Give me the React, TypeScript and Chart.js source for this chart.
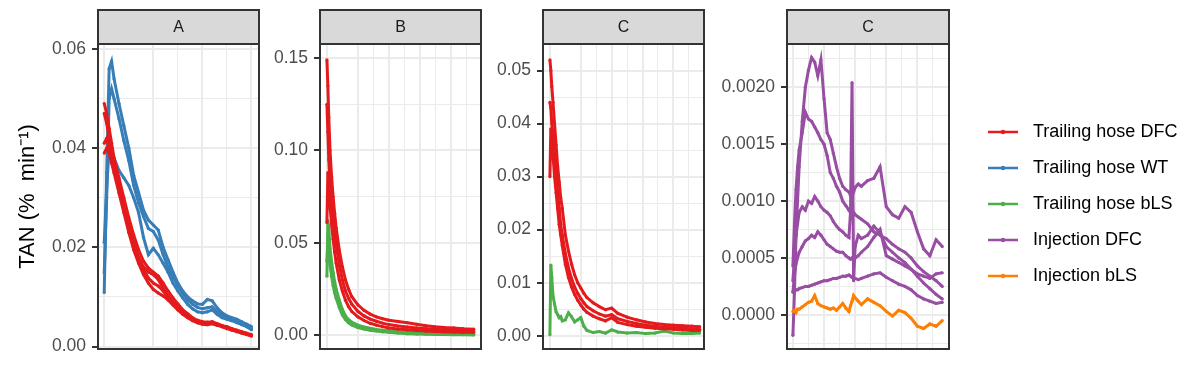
import React, { useEffect, useRef } from "react";
import { Chart, registerables } from "chart.js";

Chart.register(...registerables);

const FONT = "'Liberation Sans', Arial, Helvetica, sans-serif";

const seriesNames = ["Trailing hose DFC", "Trailing hose WT", "Trailing hose bLS", "Injection DFC", "Injection bLS"];
const seriesColors = ["#E41A1C", "#377EB8", "#4DAF4A", "#984EA3", "#FF7F00"];
const yTitle = "TAN (%  min⁻¹)";

// ---------- Panel A ----------
const timeA = [0, 0.05, 0.1, 0.15, 0.2, 0.3, 0.4, 0.5, 0.6, 0.7, 0.8, 0.9, 1.0, 1.1, 1.2, 1.3, 1.4, 1.5, 1.6, 1.7, 1.8, 1.9, 2.0, 2.1, 2.2, 2.3, 2.4, 2.5, 2.6, 2.7, 2.8, 2.9, 3.0];
const aDfc1 = [0.049, 0.047, 0.044, 0.041, 0.038, 0.034, 0.030, 0.026, 0.0225, 0.0195, 0.0172, 0.0158, 0.0150, 0.0142, 0.0128, 0.0112, 0.0098, 0.0086, 0.0074, 0.0066, 0.0058, 0.0053, 0.0050, 0.0049, 0.0050, 0.0046, 0.0042, 0.0040, 0.0036, 0.0033, 0.0030, 0.0027, 0.0024];
const aDfc2 = [0.047, 0.045, 0.042, 0.040, 0.037, 0.033, 0.029, 0.025, 0.021, 0.018, 0.0155, 0.0138, 0.0128, 0.0122, 0.0112, 0.0100, 0.0088, 0.0078, 0.0068, 0.0060, 0.0054, 0.0050, 0.0047, 0.0046, 0.0047, 0.0044, 0.0040, 0.0037, 0.0034, 0.0031, 0.0028, 0.0025, 0.0022];
const aDfc3 = [0.041, 0.042, 0.040, 0.038, 0.036, 0.032, 0.028, 0.024, 0.0205, 0.0178, 0.0160, 0.0150, 0.0145, 0.0135, 0.0118, 0.0102, 0.0090, 0.0080, 0.0070, 0.0062, 0.0056, 0.0051, 0.0048, 0.0047, 0.0048, 0.0045, 0.0042, 0.0038, 0.0035, 0.0032, 0.0029, 0.0026, 0.0023];
const aDfc4 = [0.039, 0.040, 0.039, 0.037, 0.035, 0.031, 0.027, 0.023, 0.0195, 0.0168, 0.0145, 0.0128, 0.0115, 0.0108, 0.0102, 0.0094, 0.0084, 0.0074, 0.0065, 0.0058, 0.0052, 0.0048, 0.0045, 0.0044, 0.0046, 0.0043, 0.0040, 0.0036, 0.0033, 0.0030, 0.0027, 0.0024, 0.0021];
const aWt1 = [0.0109, 0.035, 0.056, 0.0575, 0.054, 0.049, 0.0445, 0.040, 0.0345, 0.031, 0.0275, 0.0255, 0.0245, 0.0235, 0.020, 0.0175, 0.015, 0.0128, 0.0112, 0.0100, 0.0092, 0.0086, 0.0085, 0.0095, 0.0092, 0.0078, 0.0068, 0.0062, 0.0058, 0.0055, 0.0050, 0.0045, 0.0040];
const aWt2 = [0.0149, 0.030, 0.050, 0.052, 0.050, 0.046, 0.0415, 0.0375, 0.0325, 0.029, 0.0262, 0.0238, 0.0232, 0.0215, 0.0185, 0.0160, 0.0140, 0.0122, 0.0108, 0.0094, 0.0085, 0.0079, 0.0076, 0.0078, 0.0080, 0.0070, 0.0063, 0.0058, 0.0055, 0.0050, 0.0046, 0.0042, 0.0036];
const aWt3 = [0.021, 0.032, 0.040, 0.0395, 0.038, 0.0355, 0.034, 0.0325, 0.030, 0.027, 0.022, 0.0185, 0.0198, 0.0185, 0.0168, 0.0150, 0.0128, 0.0112, 0.0098, 0.0085, 0.0076, 0.0070, 0.0068, 0.0070, 0.0074, 0.0065, 0.0058, 0.0055, 0.0052, 0.0048, 0.0044, 0.0040, 0.0034];
const aYTicks = [0, 0.02, 0.04, 0.06];
const aYLabels = ["0.00", "0.02", "0.04", "0.06"];
const aYMinor = [0.01, 0.03, 0.05];
const aXMajor = [0, 1, 2, 3];
const aXMinor = [1.5, 2.5];

// ---------- Panel B ----------
const timeB = [0, 0.03, 0.06, 0.1, 0.15, 0.2, 0.25, 0.3, 0.4, 0.5, 0.6, 0.7, 0.8, 1.0, 1.2, 1.4, 1.6, 1.8, 2.0, 2.3, 2.6, 2.9, 3.2, 3.5, 3.8, 4.1, 4.4, 4.75];
const bDfc1 = [0.149, 0.135, 0.118, 0.100, 0.086, 0.075, 0.066, 0.058, 0.046, 0.037, 0.030, 0.025, 0.021, 0.0165, 0.0135, 0.0115, 0.0100, 0.0090, 0.0082, 0.0075, 0.0068, 0.0060, 0.0052, 0.0046, 0.0042, 0.0040, 0.0036, 0.0033];
const bDfc2 = [0.125, 0.110, 0.095, 0.082, 0.070, 0.062, 0.055, 0.049, 0.038, 0.030, 0.024, 0.020, 0.0170, 0.0130, 0.0105, 0.0088, 0.0076, 0.0066, 0.0058, 0.0050, 0.0045, 0.0040, 0.0036, 0.0033, 0.0030, 0.0028, 0.0026, 0.0024];
const bDfc3 = [0.061, 0.088, 0.080, 0.070, 0.060, 0.052, 0.045, 0.039, 0.030, 0.024, 0.019, 0.0155, 0.0130, 0.0100, 0.0080, 0.0065, 0.0055, 0.0047, 0.0040, 0.0034, 0.0030, 0.0026, 0.0023, 0.0021, 0.0019, 0.0018, 0.0017, 0.0016];
const bBls1 = [0.032, 0.062, 0.058, 0.047, 0.040, 0.034, 0.029, 0.025, 0.019, 0.014, 0.0105, 0.0085, 0.0072, 0.0055, 0.0045, 0.0038, 0.0032, 0.0028, 0.0025, 0.0020, 0.0016, 0.0013, 0.0011, 0.0010, 0.0009, 0.0008, 0.0007, 0.0006];
const bBls2 = [0.040, 0.050, 0.045, 0.038, 0.032, 0.027, 0.023, 0.020, 0.015, 0.011, 0.0085, 0.0068, 0.0056, 0.0042, 0.0034, 0.0028, 0.0023, 0.0019, 0.0016, 0.0012, 0.0009, 0.0007, 0.0006, 0.0005, 0.0004, 0.0003, 0.0003, 0.0002];
const bYTicks = [0, 0.05, 0.1, 0.15];
const bYLabels = ["0.00", "0.05", "0.10", "0.15"];
const bYMinor = [0.025, 0.075, 0.125];
const bXMajor = [0, 1, 2, 3, 4];
const bXMinor = [1.5, 2.5, 3.5, 4.5];

// ---------- Panel C (trailing hose) ----------
const timeC1 = [0, 0.03, 0.06, 0.1, 0.15, 0.2, 0.25, 0.3, 0.35, 0.4, 0.5, 0.6, 0.7, 0.8, 0.9, 1.0, 1.1, 1.2, 1.4, 1.6, 1.8, 2.0, 2.2, 2.5, 2.8, 3.1, 3.4, 3.7, 4.0, 4.3, 4.6, 4.85];
const cDfc1 = [0.052, 0.050, 0.047, 0.044, 0.040, 0.036, 0.032, 0.029, 0.026, 0.024, 0.019, 0.0160, 0.0135, 0.0115, 0.0100, 0.0090, 0.0080, 0.0072, 0.0062, 0.0055, 0.0049, 0.0052, 0.0042, 0.0035, 0.0030, 0.0026, 0.0023, 0.0021, 0.0020, 0.0019, 0.0018, 0.0017];
const cDfc2 = [0.044, 0.043, 0.040, 0.038, 0.034, 0.031, 0.027, 0.024, 0.021, 0.019, 0.0155, 0.0128, 0.0108, 0.0092, 0.0080, 0.0070, 0.0062, 0.0055, 0.0047, 0.0041, 0.0037, 0.0040, 0.0032, 0.0027, 0.0023, 0.0020, 0.0018, 0.0016, 0.0015, 0.0014, 0.0013, 0.0012];
const cDfc3 = [0.030, 0.039, 0.037, 0.034, 0.030, 0.027, 0.024, 0.021, 0.019, 0.017, 0.0135, 0.0110, 0.0092, 0.0078, 0.0067, 0.0058, 0.0050, 0.0044, 0.0037, 0.0032, 0.0028, 0.0034, 0.0025, 0.0021, 0.0018, 0.0016, 0.0014, 0.0013, 0.0012, 0.0011, 0.0010, 0.0010];
const cBls1 = [0.0002, 0.0133, 0.0110, 0.0075, 0.0060, 0.0045, 0.0040, 0.0034, 0.0036, 0.0028, 0.0030, 0.0043, 0.0036, 0.0026, 0.0030, 0.0034, 0.0018, 0.0010, 0.0006, 0.0008, 0.0005, 0.0011, 0.0007, 0.0005, 0.0006, 0.0004, 0.0005, 0.0009, 0.0005, 0.0004, 0.0004, 0.0005];
const c1YTicks = [0, 0.01, 0.02, 0.03, 0.04, 0.05];
const c1YLabels = ["0.00", "0.01", "0.02", "0.03", "0.04", "0.05"];
const c1YMinor = [0.005, 0.015, 0.025, 0.035, 0.045];
const c1XMajor = [0, 1, 2, 3, 4];
const c1XMinor = [1.5, 2.5, 3.5, 4.5];

// ---------- Panel C (injection) ----------
const timeC2 = [0, 0.05, 0.1, 0.15, 0.2, 0.3, 0.4, 0.5, 0.6, 0.7, 0.8, 0.9, 1.0, 1.1, 1.2, 1.3, 1.4, 1.5, 1.6, 1.7, 1.8, 1.85, 1.9, 1.95, 2.0, 2.1, 2.2, 2.4, 2.6, 2.8, 3.0, 3.2, 3.4, 3.6, 3.8, 4.0, 4.2, 4.4, 4.6, 4.8];
const injDfc1 = [-0.00018, 0.0002, 0.0007, 0.0010, 0.0013, 0.0017, 0.0020, 0.00215, 0.00226, 0.00222, 0.0021, 0.00224, 0.0019, 0.0016, 0.00154, 0.00142, 0.0013, 0.0012, 0.00113, 0.0011, 0.00108, 0.00105, 0.0011, 0.00108, 0.00112, 0.00115, 0.00113, 0.00118, 0.0012, 0.0013, 0.00095, 0.00088, 0.00085, 0.00095, 0.0009, 0.00073, 0.00058, 0.00052, 0.00066, 0.0006];
const injDfc2 = [0.00043, 0.0008, 0.0011, 0.0013, 0.00145, 0.0016, 0.00178, 0.00172, 0.0017, 0.00165, 0.0016, 0.00154, 0.0015, 0.0014, 0.00125, 0.0012, 0.00113, 0.00108, 0.0010, 0.00096, 0.00092, 0.0009, 0.00088, 0.0009, 0.00088, 0.00086, 0.00084, 0.0008, 0.00073, 0.0007, 0.00067, 0.00062, 0.00058, 0.00055, 0.0005, 0.00043, 0.00038, 0.00034, 0.0003, 0.00025];
const injDfc3 = [0.0003, 0.0005, 0.0007, 0.0008, 0.0009, 0.00095, 0.00092, 0.0010, 0.00098, 0.00104, 0.0010, 0.00095, 0.00092, 0.0009, 0.00087, 0.00082, 0.00078, 0.00075, 0.00073, 0.0007, 0.00068, 0.0009, 0.00204, 0.0003, 0.0006, 0.0007, 0.00067, 0.0007, 0.00078, 0.00072, 0.0006, 0.00055, 0.0005, 0.00046, 0.0004, 0.00034, 0.00028, 0.00023, 0.00018, 0.00014];
const injDfc4 = [0.0002, 0.00035, 0.00045, 0.0005, 0.00055, 0.0006, 0.00065, 0.00067, 0.0007, 0.00068, 0.00073, 0.0007, 0.00066, 0.00062, 0.0006, 0.00058, 0.00056, 0.00055, 0.00055, 0.00052, 0.0005, 0.00049, 0.0005, 0.00048, 0.0005, 0.00052, 0.00055, 0.0006, 0.00068, 0.00075, 0.00052, 0.00049, 0.00046, 0.00043, 0.0004, 0.00036, 0.00034, 0.00032, 0.00036, 0.00037];
const injDfc5 = [0.0002, 0.00021, 0.00022, 0.00022, 0.00023, 0.00024, 0.00025, 0.00025, 0.00026, 0.00027, 0.00028, 0.00029, 0.0003, 0.0003, 0.00031, 0.00032, 0.00032, 0.00033, 0.00034, 0.00034, 0.00035, 0.00034, 0.00033, 0.00032, 0.00032, 0.00031, 0.00032, 0.00034, 0.00036, 0.00037, 0.00033, 0.0003, 0.00027, 0.00025, 0.00022, 0.00017, 0.00014, 0.00012, 0.0001, 0.00011];
const injBls = [0.00003, 0.00004, 0.00002, 0.00005, 0.00005, 0.00007, 0.00009, 0.00011, 0.00012, 0.00017, 0.0001, 0.00008, 0.00007, 0.00006, 0.00005, 0.00006, 0.00004, 0.00007, 0.0001, 0.00006, 0.00003, 0.00008, 0.00012, 0.00017, 0.00015, 0.00012, 0.00009, 0.00014, 0.00011, 0.00008, 0.00003, -0.00001, 0.00004, 0.00002, -0.00003, -0.0001, -0.00012, -0.00008, -0.0001, -0.00005];
const c2YTicks = [0, 0.0005, 0.001, 0.0015, 0.002];
const c2YLabels = ["0.0000", "0.0005", "0.0010", "0.0015", "0.0020"];
const c2YMinor = [-0.00025, 0.00025, 0.00075, 0.00125, 0.00175, 0.00225];
const c2XMajor = [0, 1, 2, 3, 4];
const c2XMinor = [0.5, 1.5, 2.5, 3.5, 4.5];

type Line = { s: number; ys: number[] };
type PanelSpec = {
  label: string; left: number; axisWidth: number; width: number;
  xs: number[]; lines: Line[];
  xMin: number; xMax: number; xMajor: number[]; xMinor: number[];
  yMin: number; yMax: number; yMajor: number[]; yMinor: number[]; yLabels: string[];
  title?: string;
};

const panels: PanelSpec[] = [
  {
    label: "A", left: 0, axisWidth: 98, width: 263, xs: timeA,
    lines: [{ s: 0, ys: aDfc1 }, { s: 0, ys: aDfc2 }, { s: 0, ys: aDfc3 }, { s: 0, ys: aDfc4 }, { s: 1, ys: aWt1 }, { s: 1, ys: aWt2 }, { s: 1, ys: aWt3 }],
    xMin: -0.127, xMax: 3.153, xMajor: aXMajor, xMinor: aXMinor,
    yMin: -0.0005, yMax: 0.061, yMajor: aYTicks, yMinor: aYMinor, yLabels: aYLabels, title: yTitle,
  },
  {
    label: "B", left: 265, axisWidth: 55, width: 220, xs: timeB,
    lines: [{ s: 0, ys: bDfc1 }, { s: 0, ys: bDfc2 }, { s: 0, ys: bDfc3 }, { s: 2, ys: bBls1 }, { s: 2, ys: bBls2 }],
    xMin: -0.224, xMax: 4.984, xMajor: bXMajor, xMinor: bXMinor,
    yMin: -0.0074, yMax: 0.1576, yMajor: bYTicks, yMinor: bYMinor, yLabels: bYLabels,
  },
  {
    label: "C", left: 488, axisWidth: 55, width: 220, xs: timeC1,
    lines: [{ s: 0, ys: cDfc1 }, { s: 0, ys: cDfc2 }, { s: 0, ys: cDfc3 }, { s: 2, ys: cBls1 }],
    xMin: -0.224, xMax: 4.99, xMajor: c1XMajor, xMinor: c1XMinor,
    yMin: -0.0025, yMax: 0.055, yMajor: c1YTicks, yMinor: c1YMinor, yLabels: c1YLabels,
  },
  {
    label: "C", left: 712, axisWidth: 75, width: 241, xs: timeC2,
    lines: [{ s: 4, ys: injBls }, { s: 3, ys: injDfc1 }, { s: 3, ys: injDfc2 }, { s: 3, ys: injDfc3 }, { s: 3, ys: injDfc4 }, { s: 3, ys: injDfc5 }],
    xMin: -0.19, xMax: 5.016, xMajor: c2XMajor, xMinor: c2XMinor,
    yMin: -0.0003, yMax: 0.00238, yMajor: c2YTicks, yMinor: c2YMinor, yLabels: c2YLabels,
  },
];

const has = (arr: number[], v: number) => arr.some((m) => Math.abs(m - v) < 1e-10);

function Panel({ spec }: { spec: PanelSpec }) {
  const ref = useRef<HTMLCanvasElement>(null);
  useEffect(() => {
    const frame = {
      id: "panelFrame",
      afterDraw(chart: any) {
        const { ctx, chartArea } = chart;
        const { left, right, top, bottom } = chartArea;
        ctx.save();
        ctx.fillStyle = "#D9D9D9";
        ctx.fillRect(left, 10, right - left, top - 10);
        ctx.strokeStyle = "#333333";
        ctx.lineWidth = 2;
        ctx.strokeRect(left, 10, right - left, top - 10);
        ctx.strokeRect(left, top, right - left, bottom - top);
        ctx.fillStyle = "#1A1A1A";
        ctx.font = `16px ${FONT}`;
        ctx.textAlign = "center";
        ctx.textBaseline = "middle";
        ctx.fillText(spec.label, (left + right) / 2, (10 + top) / 2 + 1);
        ctx.restore();
      },
    };
    const xTicks = [...spec.xMajor, ...spec.xMinor].sort((a, b) => a - b);
    const yTicks = [...spec.yMajor, ...spec.yMinor].sort((a, b) => a - b);
    const chart = new Chart(ref.current as HTMLCanvasElement, {
      type: "line",
      data: {
        datasets: spec.lines.map((l) => ({
          label: seriesNames[l.s],
          data: spec.xs.map((x, i) => ({ x, y: l.ys[i] })),
          borderColor: seriesColors[l.s],
          backgroundColor: seriesColors[l.s],
          pointBackgroundColor: seriesColors[l.s],
          borderWidth: 3,
          pointRadius: 1.6,
          pointBorderWidth: 0,
          tension: 0,
          fill: false,
        })),
      },
      options: {
        animation: false,
        responsive: false,
        devicePixelRatio: 1,
        layout: { padding: { top: 44, bottom: 20, left: 0, right: 2 } },
        plugins: { legend: { display: false }, tooltip: { enabled: false } },
        scales: {
          x: {
            type: "linear",
            min: spec.xMin,
            max: spec.xMax,
            afterBuildTicks: (s: any) => { s.ticks = xTicks.map((v) => ({ value: v })); },
            ticks: { display: false },
            grid: {
              color: "#EBEBEB",
              lineWidth: (c: any) => (c.tick && has(spec.xMajor, c.tick.value) ? 2 : 1),
              drawTicks: false,
            },
            border: { display: false },
          },
          y: {
            type: "linear",
            min: spec.yMin,
            max: spec.yMax,
            afterBuildTicks: (s: any) => { s.ticks = yTicks.map((v) => ({ value: v })); },
            afterFit: (s: any) => { s.width = spec.axisWidth; },
            ticks: {
              autoSkip: false,
              padding: 6,
              color: "#4D4D4D",
              font: { family: FONT, size: 17.5 },
              callback: (v: any) => {
                const i = spec.yMajor.findIndex((m) => Math.abs(m - Number(v)) < 1e-10);
                return i >= 0 ? spec.yLabels[i] : "";
              },
            },
            grid: {
              color: "#EBEBEB",
              lineWidth: (c: any) => (c.tick && has(spec.yMajor, c.tick.value) ? 2 : 1),
              tickLength: 6,
              tickWidth: 2,
              tickColor: (c: any) => (c.tick && has(spec.yMajor, c.tick.value) ? "#333333" : "rgba(0,0,0,0)"),
            },
            border: { display: false },
            title: spec.title
              ? { display: true, text: spec.title, color: "#000000", font: { family: FONT, size: 22, lineHeight: 1.2 }, padding: { top: 15, bottom: 0 } }
              : { display: false },
          },
        },
      } as any,
      plugins: [frame],
    });
    return () => chart.destroy();
  }, [spec]);
  return (
    <canvas
      ref={ref}
      width={spec.width}
      height={369}
      style={{ position: "absolute", left: spec.left, top: 0, width: spec.width, height: 369 }}
    />
  );
}

function Legend() {
  const ref = useRef<HTMLCanvasElement>(null);
  useEffect(() => {
    const keys = seriesColors.map((c) => {
      const k = document.createElement("canvas");
      k.width = 36;
      k.height = 8;
      const g = k.getContext("2d") as CanvasRenderingContext2D;
      g.strokeStyle = c;
      g.lineWidth = 2.5;
      g.beginPath();
      g.moveTo(0, 4);
      g.lineTo(30, 4);
      g.stroke();
      g.fillStyle = c;
      g.beginPath();
      g.arc(15, 4, 2.2, 0, Math.PI * 2);
      g.fill();
      return k;
    });
    const chart = new Chart(ref.current as HTMLCanvasElement, {
      type: "line",
      data: { datasets: seriesNames.map((n, i) => ({ label: n, data: [], borderColor: seriesColors[i] })) },
      options: {
        animation: false,
        responsive: false,
        devicePixelRatio: 1,
        layout: { padding: { top: 105, left: 0, right: 0, bottom: 0 } },
        scales: { x: { display: false }, y: { display: false } },
        plugins: {
          tooltip: { enabled: false },
          legend: {
            display: true,
            position: "left",
            align: "start",
            maxWidth: 231,
            labels: {
              usePointStyle: true,
              pointStyleWidth: 36,
              padding: 18,
              color: "#000000",
              font: { family: FONT, size: 18 },
              generateLabels: () =>
                seriesNames.map((n, i) => ({
                  text: n,
                  pointStyle: keys[i],
                  fillStyle: seriesColors[i],
                  strokeStyle: seriesColors[i],
                  lineWidth: 0,
                  hidden: false,
                  datasetIndex: i,
                  fontColor: "#000000",
                })),
            },
          },
        },
      } as any,
    });
    return () => chart.destroy();
  }, []);
  return (
    <canvas
      ref={ref}
      width={231}
      height={369}
      style={{ position: "absolute", left: 970, top: 0, width: 231, height: 369 }}
    />
  );
}

export default function App() {
  return (
    <div style={{ position: "fixed", left: 0, top: 0, width: 1201, height: 369, background: "#FFFFFF", overflow: "hidden" }}>
      {panels.map((p, i) => (
        <Panel key={i} spec={p} />
      ))}
      <Legend />
    </div>
  );
}
